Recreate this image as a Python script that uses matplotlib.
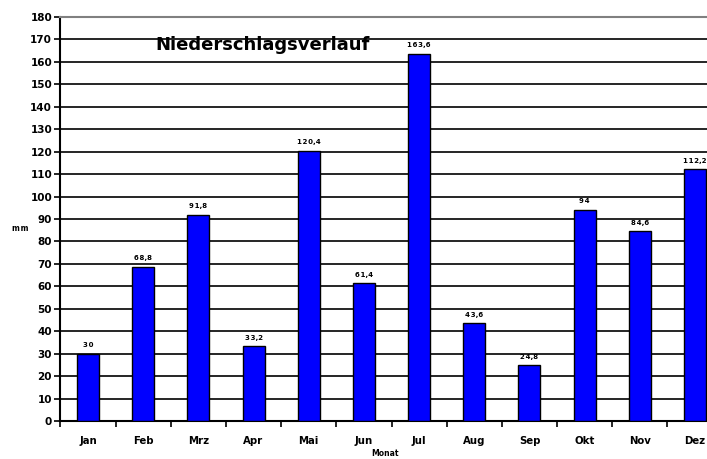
import matplotlib
matplotlib.use("Agg")
import matplotlib.pyplot as plt
import numpy as np

months = ["Jan", "Feb", "Mrz", "Apr", "Mai", "Jun", "Jul", "Aug", "Sep", "Okt", "Nov", "Dez"]
values = [30, 68.8, 91.8, 33.2, 120.4, 61.4, 163.6, 43.6, 24.8, 94, 84.6, 112.2]
labels = ["30", "68,8", "91,8", "33,2", "120,4", "61,4", "163,6", "43,6", "24,8", "94", "84,6", "112,2"]
yticks = list(range(0, 181, 10))

plt.rcParams['font.family'] = ['DejaVu Sans']
fig = plt.figure(figsize=(7.07, 4.59), dpi=100)
W, H = 707, 459
left, right, top, bottom = 60.4, 722.6, 17, 421
ax = fig.add_axes([left / W, (H - bottom) / H, (right - left) / W, (bottom - top) / H])

x = np.arange(len(months))
ax.bar(x, values, width=0.4, color="#0000ff", edgecolor="black", linewidth=1.0, zorder=3)
ax.set_xlim(-0.5, len(months) - 0.5)
ax.set_ylim(0, 180)
ax.set_yticks(yticks)
ax.set_yticklabels([str(t) for t in yticks], fontsize=7.5, fontweight="bold")
ax.yaxis.grid(True, color="black", linewidth=1.2, zorder=0)
ax.set_xticks(x)
ax.set_xticklabels(months, fontsize=7.3, fontweight="bold")
ax.set_xticks(np.arange(-0.5, len(months), 1), minor=True)
ax.tick_params(axis="x", which="major", length=0, pad=11)
ax.tick_params(axis="x", which="minor", length=4, width=1.2, direction="out")
ax.tick_params(axis="y", length=4, width=1.2, direction="out", pad=2)
ax.spines["right"].set_visible(False)
ax.spines["top"].set_color("#808080")
ax.spines["top"].set_linewidth(1.5)
ax.spines["left"].set_linewidth(1.5)
ax.spines["bottom"].set_linewidth(1.5)


def spaced(s):
    out = ""
    for i, c in enumerate(s):
        out += c
        if i < len(s) - 1 and c.isdigit() and s[i + 1].isdigit():
            out += "\u200a"
    return out


for xi, v, lab in zip(x, values, labels):
    ax.text(xi, v + 2.5, spaced(lab), ha="center", va="bottom",
            fontsize=5, fontweight="bold")

fig.text(155 / W, 1 - 45 / H, "Niederschlagsverlauf", fontsize=13, fontweight="bold",
         ha="left", va="center")
fig.text(20 / W, 1 - 229 / H, "m\u200am", fontsize=5.5, fontweight="bold", ha="center", va="center")
fig.text(385 / W, 1 - 453 / H, "Monat", fontsize=5.5, fontweight="bold", ha="center", va="center")

fig.savefig("out.png", dpi=100)
